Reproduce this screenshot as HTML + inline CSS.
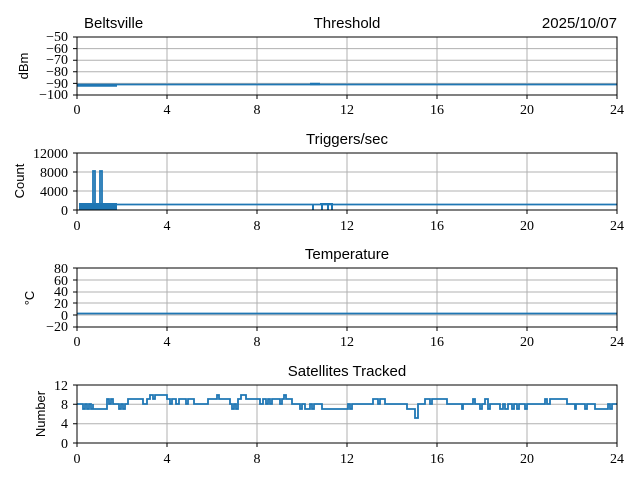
<!DOCTYPE html>
<html><head><style>
body{margin:0;background:#fff;}
svg text{font-family:"Liberation Serif",serif;font-size:14px;fill:#000;}
.t{font-family:"Liberation Sans",sans-serif;font-size:15px;}
.yl{font-family:"Liberation Sans",sans-serif;font-size:13px;}
.g{stroke:#b0b0b0;stroke-width:1;}
.d{fill:none;stroke:#1f77b4;stroke-width:1.8;}
</style></head><body>
<svg width="640" height="480" xmlns="http://www.w3.org/2000/svg">
<rect width="640" height="480" fill="#fff"/>
<text class="t" x="84" y="28">Beltsville</text>
<text class="t" x="347" y="28" text-anchor="middle">Threshold</text>
<text class="t" x="617" y="28" text-anchor="end">2025/10/07</text>
<text class="t" x="347" y="144" text-anchor="middle">Triggers/sec</text>
<text class="t" x="347" y="259" text-anchor="middle">Temperature</text>
<text class="t" x="347" y="376" text-anchor="middle">Satellites Tracked</text>

<g>
<g class="g">
<line x1="167" y1="37" x2="167" y2="95"/><line x1="257" y1="37" x2="257" y2="95"/><line x1="347" y1="37" x2="347" y2="95"/><line x1="437" y1="37" x2="437" y2="95"/><line x1="527" y1="37" x2="527" y2="95"/>
<line x1="77" y1="48.6" x2="617" y2="48.6"/><line x1="77" y1="60.2" x2="617" y2="60.2"/><line x1="77" y1="71.8" x2="617" y2="71.8"/><line x1="77" y1="83.4" x2="617" y2="83.4"/>
</g>
<path class="d" d="M77 84.5 H617"/>
<path d="M77 85.5 H117 M310 84 H320" stroke="#1f77b4" stroke-width="2.5" fill="none"/>
<rect x="77" y="37" width="540" height="58" fill="none" stroke="#000"/>
<g text-anchor="end">
<text x="68" y="41">−50</text><text x="68" y="53">−60</text><text x="68" y="64">−70</text><text x="68" y="76">−80</text><text x="68" y="88">−90</text><text x="68" y="99">−100</text>
</g>
<text class="yl" transform="translate(28,66) rotate(-90)" text-anchor="middle">dBm</text>
</g>

<g>
<g class="g">
<line x1="167" y1="153" x2="167" y2="210"/><line x1="257" y1="153" x2="257" y2="210"/><line x1="347" y1="153" x2="347" y2="210"/><line x1="437" y1="153" x2="437" y2="210"/><line x1="527" y1="153" x2="527" y2="210"/>
<line x1="77" y1="172" x2="617" y2="172"/><line x1="77" y1="191" x2="617" y2="191"/>
</g>
<rect x="79" y="203" width="38" height="7" fill="#1f77b4"/>
<path class="d" d="M117 204.5 H617"/>
<path class="d" d="M93 210 V171 H95 V208 M100 208 V171 H102 V208"/>
<path d="M313 204 V210 M320 204 H332 V210 M322 204 V210 M328 204 V210" stroke="#1f77b4" stroke-width="2" fill="none"/>
<rect x="77" y="153" width="540" height="57" fill="none" stroke="#000"/>
<g text-anchor="end">
<text x="68" y="158">12000</text><text x="68" y="177">8000</text><text x="68" y="196">4000</text><text x="68" y="215">0</text>
</g>
<text class="yl" transform="translate(24,181) rotate(-90)" text-anchor="middle">Count</text>
</g>

<g>
<g class="g">
<line x1="167" y1="268" x2="167" y2="327"/><line x1="257" y1="268" x2="257" y2="327"/><line x1="347" y1="268" x2="347" y2="327"/><line x1="437" y1="268" x2="437" y2="327"/><line x1="527" y1="268" x2="527" y2="327"/>
<line x1="77" y1="280" x2="617" y2="280"/><line x1="77" y1="292" x2="617" y2="292"/><line x1="77" y1="303" x2="617" y2="303"/><line x1="77" y1="315" x2="617" y2="315"/>
</g>
<path class="d" d="M77 313.5 H617"/>
<rect x="77" y="268" width="540" height="59" fill="none" stroke="#000"/>
<g text-anchor="end">
<text x="68" y="273">80</text><text x="68" y="285">60</text><text x="68" y="296">40</text><text x="68" y="308">20</text><text x="68" y="320">0</text><text x="68" y="331">−20</text>
</g>
<text class="yl" transform="translate(34,298) rotate(-90)" text-anchor="middle">°C</text>
</g>

<g>
<g class="g">
<line x1="167" y1="385" x2="167" y2="443"/><line x1="257" y1="385" x2="257" y2="443"/><line x1="347" y1="385" x2="347" y2="443"/><line x1="437" y1="385" x2="437" y2="443"/><line x1="527" y1="385" x2="527" y2="443"/>
<line x1="77" y1="404.3" x2="617" y2="404.3"/><line x1="77" y1="423.7" x2="617" y2="423.7"/>
</g>
<path class="d" d="M77 404 H83 V409 H85 V404 H87 V409 H89 V404 H91 V409 H93 V404 V409 H107 V404 V399 H109 V404 H111 V399 H113 V404 H119 V409 H121 V404 H123 V409 H125 V404 H128 V399 H143 V404 H147 V399 H150 V395 H153 V399 H155 V395 H167 V399 H170 V404 H172 V399 H176 V404 H179 V399 H186 V404 H188 V399 H194 V404 H208 V399 H217 V395 H219 V399 H230 V404 H232 V409 H234 V404 H236 V409 H238 V399 H241 V395 H246 V399 H260 V404 H263 V399 H266 V404 H268 V399 H270 V404 H272 V399 H280 V404 H282 V399 H284 V395 H286 V399 H292 V404 H300 V409 H302 V404 H305 V409 H310 V404 H312 V409 H314 V404 H322 V409 H348 V404 H350 V409 H352 V404 H373 V399 H378 V404 H380 V399 H385 V404 H407 V409 H415 V418 H418 V404 H425 V399 H430 V404 H432 V399 H447 V404 H462 V409 H463 V404 H473 V399 H475 V404 H480 V409 H482 V404 H485 V399 H488 V409 H490 V404 H500 V409 H503 V404 H505 V409 H508 V404 H512 V409 H514 V404 H517 V409 H519 V404 H525 V409 H527 V404 H545 V399 H547 V404 H550 V399 H567 V404 H575 V409 H576 V404 H585 V409 H587 V404 H595 V409 H608 V404 H610 V409 H612 V404 H617"/>
<rect x="77" y="385" width="540" height="58" fill="none" stroke="#000"/>
<g text-anchor="end">
<text x="68" y="390">12</text><text x="68" y="409">8</text><text x="68" y="428">4</text><text x="68" y="448">0</text>
</g>
<text class="yl" transform="translate(45,414) rotate(-90)" text-anchor="middle">Number</text>
</g>

<g stroke="#000">
<path d="M77 95v4M167 95v4M257 95v4M347 95v4M437 95v4M527 95v4M617 95v4"/>
<path d="M77 210v4M167 210v4M257 210v4M347 210v4M437 210v4M527 210v4M617 210v4"/>
<path d="M77 327v4M167 327v4M257 327v4M347 327v4M437 327v4M527 327v4M617 327v4"/>
<path d="M77 443v4M167 443v4M257 443v4M347 443v4M437 443v4M527 443v4M617 443v4"/>
<path d="M77 37h-4M77 48.6h-4M77 60.2h-4M77 71.8h-4M77 83.4h-4M77 95h-4"/>
<path d="M77 153h-4M77 172h-4M77 191h-4M77 210h-4"/>
<path d="M77 268h-4M77 280h-4M77 292h-4M77 303h-4M77 315h-4M77 327h-4"/>
<path d="M77 385h-4M77 404.3h-4M77 423.7h-4M77 443h-4"/>
</g>
<g text-anchor="middle">
<text x="77" y="114">0</text><text x="167" y="114">4</text><text x="257" y="114">8</text><text x="347" y="114">12</text><text x="437" y="114">16</text><text x="527" y="114">20</text><text x="617" y="114">24</text>
<text x="77" y="230">0</text><text x="167" y="230">4</text><text x="257" y="230">8</text><text x="347" y="230">12</text><text x="437" y="230">16</text><text x="527" y="230">20</text><text x="617" y="230">24</text>
<text x="77" y="346">0</text><text x="167" y="346">4</text><text x="257" y="346">8</text><text x="347" y="346">12</text><text x="437" y="346">16</text><text x="527" y="346">20</text><text x="617" y="346">24</text>
<text x="77" y="463">0</text><text x="167" y="463">4</text><text x="257" y="463">8</text><text x="347" y="463">12</text><text x="437" y="463">16</text><text x="527" y="463">20</text><text x="617" y="463">24</text>
</g>
</svg>
</body></html>
